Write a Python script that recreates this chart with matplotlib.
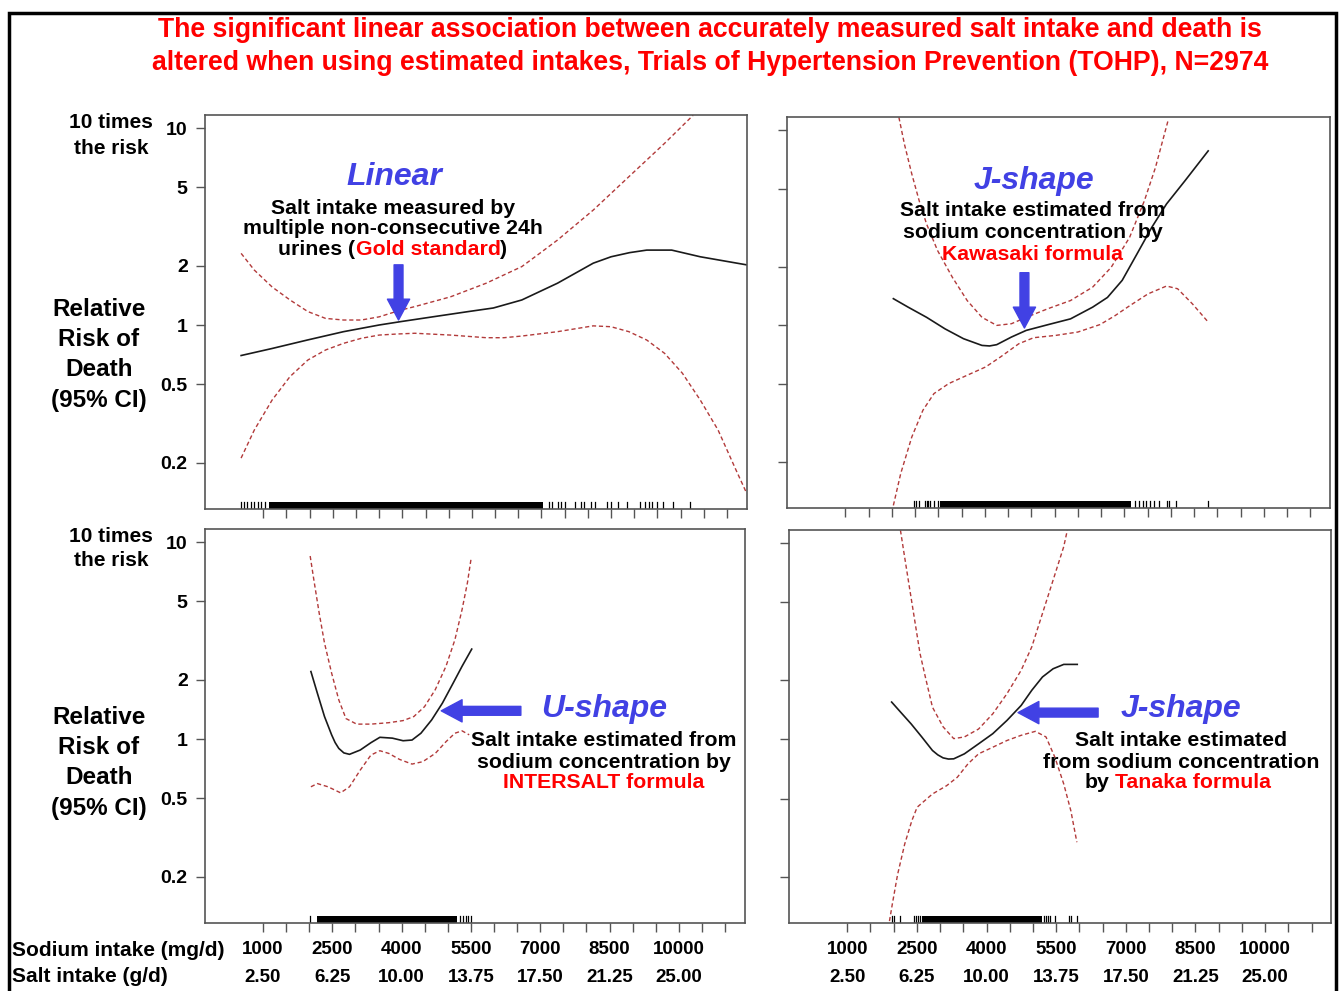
import numpy as np
import matplotlib.pyplot as plt
from matplotlib.patches import Rectangle

plt.rcParams['font.family'] = ['Liberation Sans', 'DejaVu Sans']

W, H = 1341, 991

# x = sodium intake (mg/d), y = relative risk of death
# top left: measured 24h urines (gold standard)
tl_x = [524, 1192, 1961, 2732, 3500, 3961, 4653, 5423, 5962, 6576, 7345, 8116, 8500, 8900, 9269, 9807, 10423, 11422]
tl_rr = [0.70, 0.76, 0.84, 0.925, 1.0, 1.04, 1.10, 1.17, 1.22, 1.34, 1.63, 2.06, 2.22, 2.33, 2.40, 2.40, 2.22, 2.02]
tl_up_x = [524, 808, 1192, 1577, 1962, 2346, 2731, 3115, 3500, 3962, 4269, 5038, 5808, 6577, 6961, 7346, 8115, 8884, 9654, 10269]
tl_up = [2.31, 1.90, 1.56, 1.34, 1.17, 1.08, 1.06, 1.06, 1.10, 1.19, 1.24, 1.39, 1.63, 1.98, 2.31, 2.70, 3.83, 5.66, 8.36, 11.6]
tl_lo_x = [523, 808, 1192, 1577, 1962, 2346, 2731, 3115, 3500, 3885, 4269, 5038, 5808, 6192, 6577, 7346, 8115, 8500, 8884,
           9269, 9654, 10038, 10423, 10807, 11192, 11423]
tl_lo = [0.211, 0.293, 0.416, 0.547, 0.664, 0.747, 0.807, 0.856, 0.889, 0.90, 0.908, 0.889, 0.862, 0.862, 0.879, 0.925,
         0.99, 0.98, 0.925, 0.839, 0.718, 0.569, 0.416, 0.293, 0.184, 0.14]
tl_rug = [523, 577, 654, 731, 808, 885, 962, 1039, 7154, 7231, 7346, 7423, 7500, 7731, 7846, 7923, 8077, 8154, 8423,
          8500, 8654, 8846, 9115, 9231, 9308, 9385, 9500, 9615, 9846, 10192]
tl_band = (1115, 7040)

# top right: Kawasaki formula
tr_x = [2032, 2349, 2746, 3143, 3540, 3937, 4100, 4254, 4571, 4889, 5365, 5841, 6317, 6635, 6952, 7270, 7587, 7905, 8301, 8801]
tr_rr = [1.37, 1.24, 1.10, 0.96, 0.855, 0.79, 0.785, 0.797, 0.872, 0.943, 1.01, 1.08, 1.24, 1.39, 1.70, 2.32, 3.17, 4.18, 5.49, 7.81]
tr_up_x = [2151, 2270, 2429, 2587, 2746, 2984, 3302, 3619, 3937, 4254, 4571, 4889, 5365, 5841, 6317, 6714, 7111, 7429, 7667, 7944]
tr_up = [11.6, 8.45, 5.94, 4.34, 3.30, 2.41, 1.76, 1.34, 1.10, 1.0, 1.02, 1.10, 1.22, 1.34, 1.57, 1.98, 2.82, 4.34, 6.42, 11.3]
tr_lo_x = [2032, 2191, 2429, 2667, 2905, 3222, 3619, 4016, 4333, 4730, 5048, 5524, 6000, 6476, 6794, 7111, 7508, 7905,
           8143, 8460, 8801]
tr_lo = [0.12, 0.175, 0.269, 0.368, 0.448, 0.504, 0.556, 0.613, 0.689, 0.806, 0.865, 0.889, 0.925, 1.01, 1.12, 1.26,
         1.45, 1.59, 1.54, 1.29, 1.04]
tr_rug = [2468, 2508, 2587, 2706, 2746, 2786, 2826, 2905, 2984, 7230, 7310, 7389, 7468, 7548, 7627, 7746, 7905, 7960,
          8103, 8801]
tr_band = (3024, 7151)

# bottom left: INTERSALT formula
bl_x = [2037, 2176, 2331, 2485, 2560, 2640, 2750, 2872, 3104, 3336, 3529, 3800, 4032, 4225, 4418, 4650, 4882, 5114, 5308, 5517]
bl_rr = [2.20, 1.71, 1.30, 1.05, 0.96, 0.896, 0.85, 0.836, 0.879, 0.958, 1.02, 1.01, 0.98, 0.988, 1.07, 1.25, 1.52, 1.92,
         2.34, 2.86]
bl_up_x = [2021, 2099, 2215, 2331, 2485, 2640, 2795, 3027, 3336, 3722, 4032, 4264, 4496, 4728, 4960, 5153, 5308, 5424, 5501]
bl_up = [8.49, 6.46, 4.37, 3.07, 2.16, 1.58, 1.27, 1.19, 1.19, 1.21, 1.24, 1.30, 1.46, 1.78, 2.34, 3.19, 4.54, 6.21, 8.17]
bl_lo_x = [2037, 2176, 2408, 2679, 2872, 3104, 3336, 3529, 3722, 3954, 4225, 4457, 4728, 4960, 5153, 5308, 5462]
bl_lo = [0.572, 0.594, 0.572, 0.533, 0.572, 0.695, 0.829, 0.872, 0.845, 0.788, 0.746, 0.767, 0.845, 0.969, 1.07, 1.10, 1.05]
bl_rug = [2021, 5254, 5331, 5385, 5440, 5501]
bl_band = (2176, 5207)

# bottom right: Tanaka formula
br_x = [1956, 2146, 2376, 2605, 2835, 2950, 3064, 3180, 3293, 3523, 3828, 4134, 4440, 4746, 4975, 5205, 5434, 5663, 5954]
br_rr = [1.55, 1.38, 1.20, 1.03, 0.879, 0.835, 0.806, 0.795, 0.797, 0.845, 0.95, 1.07, 1.25, 1.49, 1.78, 2.08, 2.29, 2.41, 2.41]
br_up_x = [2146, 2223, 2337, 2452, 2567, 2682, 2835, 3064, 3293, 3523, 3828, 4134, 4440, 4746, 4975, 5205, 5434, 5663, 5740]
br_up = [11.6, 8.86, 5.99, 4.05, 2.74, 2.08, 1.46, 1.16, 1.01, 1.03, 1.13, 1.35, 1.71, 2.25, 2.96, 4.38, 6.47, 9.58, 11.6]
br_lo_x = [1909, 1970, 2085, 2238, 2391, 2505, 2835, 3141, 3370, 3599, 3828, 4134, 4440, 4746, 5052, 5281, 5472, 5663,
           5816, 5946]
br_lo = [0.119, 0.145, 0.206, 0.294, 0.386, 0.452, 0.528, 0.582, 0.642, 0.751, 0.845, 0.913, 0.988, 1.05, 1.10, 1.03,
         0.812, 0.594, 0.434, 0.30]
br_rug = [1971, 2009, 2131, 2437, 2475, 2529, 2567, 5243, 5281, 5334, 5372, 5480, 5778, 5816, 5946]
br_band = (2605, 5205)

y_ticks = [0.2, 0.5, 1, 2, 5, 10]
y_labels = ['0.2', '0.5', '1', '2', '5', '10']
sodium_labels = [1000, 2500, 4000, 5500, 7000, 8500, 10000]
salt_labels = ['2.50', '6.25', '10.00', '13.75', '17.50', '21.25', '25.00']

BLUE = '#4141e4'
RED = '#ff0000'
CI = '#b23a3a'
FRAME = '#555555'


def px(x, y):
    return x / W, 1 - y / H


fig = plt.figure(figsize=(W / 100, H / 100), dpi=100)

# axes boxes from pixel edges (left, top, right, bottom)
boxes = [(205, 115, 746.5, 509), (787, 117, 1330, 508), (205, 529, 744.5, 923), (789, 530, 1331, 923)]
panels = [
    (tl_x, tl_rr, tl_up_x, tl_up, tl_lo_x, tl_lo, tl_rug, tl_band),
    (tr_x, tr_rr, tr_up_x, tr_up, tr_lo_x, tr_lo, tr_rug, tr_band),
    (bl_x, bl_rr, bl_up_x, bl_up, bl_lo_x, bl_lo, bl_rug, bl_band),
    (br_x, br_rr, br_up_x, br_up, br_lo_x, br_lo, br_rug, br_band),
]
axes = []
for i, ((l, t, r, b), p) in enumerate(zip(boxes, panels)):
    ax = fig.add_axes([l / W, 1 - b / H, (r - l) / W, (b - t) / H])
    x, rr, ux, up, lx, lo, rug, band = p
    ax.plot(x, rr, color='#1a1a1a', lw=1.2)
    ax.plot(ux, up, color=CI, lw=1.0, dashes=(3, 2))
    ax.plot(lx, lo, color=CI, lw=1.0, dashes=(3, 2))
    ax.axvspan(band[0], band[1], ymin=0, ymax=0.018, color='black', lw=0)
    for v in rug:
        ax.axvline(v, ymin=0, ymax=0.018, color='black', lw=0.9)
    ax.set_yscale('log')
    ax.set_ylim(10 ** -0.934, 10 ** 1.066)
    ax.set_xlim(-255, 11420)
    ax.minorticks_off()
    ax.set_yticks(y_ticks)
    if i % 2 == 0:
        ax.set_yticklabels(y_labels, fontsize=14, fontweight='bold')
    else:
        ax.set_yticklabels([])
    ax.set_xticks(np.arange(1000, 11001, 500))
    ax.set_xticklabels([])
    ax.tick_params(direction='out', length=6.5, width=1, color=FRAME, pad=6)
    for s in ax.spines.values():
        s.set_color(FRAME)
        s.set_linewidth(1.2)
    axes.append(ax)

# sodium / salt tick labels under the bottom panels
for ax in axes[2:]:
    for v, s in zip(sodium_labels, salt_labels):
        ax.annotate(str(v), xy=(v, 1 - 950 / H), xycoords=('data', 'figure fraction'), ha='center', va='center',
                    fontsize=13.5, fontweight='bold')
        ax.annotate(s, xy=(v, 1 - 977 / H), xycoords=('data', 'figure fraction'), ha='center', va='center',
                    fontsize=13.5, fontweight='bold')

fig.text(*px(12, 950), 'Sodium intake (mg/d)', fontsize=15, fontweight='bold', va='center', ha='left')
fig.text(*px(12, 977), 'Salt intake (g/d)', fontsize=15, fontweight='bold', va='center', ha='left')

# title
fig.text(*px(710, 30), 'The significant linear association between accurately measured salt intake and death is',
         color=RED, fontsize=19.2, fontweight='bold', ha='center', va='center')
fig.text(*px(710, 63), 'altered when using estimated intakes, Trials of Hypertension Prevention (TOHP), N=2974',
         color=RED, fontsize=19.2, fontweight='bold', ha='center', va='center')

# y axis annotations
for y0, ys in [((122, 148), (309, 339, 369, 400)), ((536, 560), (718, 747, 777, 808))]:
    fig.text(*px(111, y0[0]), '10 times', fontsize=15, fontweight='bold', ha='center', va='center')
    fig.text(*px(111, y0[1]), 'the risk', fontsize=15, fontweight='bold', ha='center', va='center')
    for yy, s in zip(ys, ['Relative', 'Risk of', 'Death', '(95% CI)']):
        fig.text(*px(99, yy), s, fontsize=17.5, fontweight='bold', ha='center', va='center')

renderer = fig.canvas.get_renderer()
SZ = 15.3


def text_line(x, y, parts, size=SZ):
    ts = [fig.text(0, 0, s, color=c, fontsize=size, fontweight='bold', ha='left', va='center') for s, c in parts]
    gap = 0.278 * size * 100 / 72
    ws = [t.get_window_extent(renderer).width for t in ts]
    total = sum(ws) + gap * sum(1 for s, c in parts if s.startswith(' '))
    x0 = x - total / 2
    for (s, c), t, w in zip(parts, ts, ws):
        if s.startswith(' '):
            x0 += gap
            t.set_text(s.strip())
        t.set_position(px(x0, y))
        x0 += w


def shape_label(x, y, s):
    fig.text(*px(x, y), s, color=BLUE, fontsize=23, fontweight='bold', style='italic', ha='center', va='center')


shape_label(394, 177, 'Linear')
text_line(393, 208, [('Salt intake measured by', 'black')])
text_line(393, 229, [('multiple non-consecutive 24h', 'black')])
text_line(393, 250, [('urines (', 'black'), ('Gold standard', RED), (')', 'black')])

shape_label(1034, 181, 'J-shape')
text_line(1033, 211, [('Salt intake estimated from', 'black')])
text_line(1033, 233, [('sodium concentration  by', 'black')])
text_line(1033, 254, [('Kawasaki formula', RED)])

shape_label(604, 709, 'U-shape')
text_line(604, 740, [('Salt intake estimated from', 'black')])
text_line(604, 762, [('sodium concentration by', 'black')])
text_line(604, 783, [('INTERSALT formula', RED)])

shape_label(1181, 709, 'J-shape')
text_line(1181, 740, [('Salt intake estimated', 'black')])
text_line(1181, 762, [('from sodium concentration', 'black')])
text_line(1181, 783, [('by', 'black'), (' Tanaka formula', RED)])

# blue arrows pointing at the curves
arrow = dict(arrowstyle='simple,head_length=0.75,head_width=0.8,tail_width=0.32', color=BLUE,
             mutation_scale=20, shrinkA=0, shrinkB=0)
axes[0].annotate('', xy=(3918, 1.06), xytext=(3918, 2.02), arrowprops=arrow)
axes[1].annotate('', xy=(4850, 0.97), xytext=(4850, 1.86), arrowprops=arrow)
axes[2].annotate('', xy=(4857, 1.39), xytext=(6580, 1.39), arrowprops=arrow)
axes[3].annotate('', xy=(4678, 1.37), xytext=(6403, 1.37), arrowprops=arrow)

# outer frame
fig.patches.append(Rectangle((9 / W, -0.01), (1336 - 9) / W, 1 - 13 / H + 0.01, transform=fig.transFigure,
                             fill=False, edgecolor='black', lw=2.5))

fig.savefig('out.png', dpi=100)
